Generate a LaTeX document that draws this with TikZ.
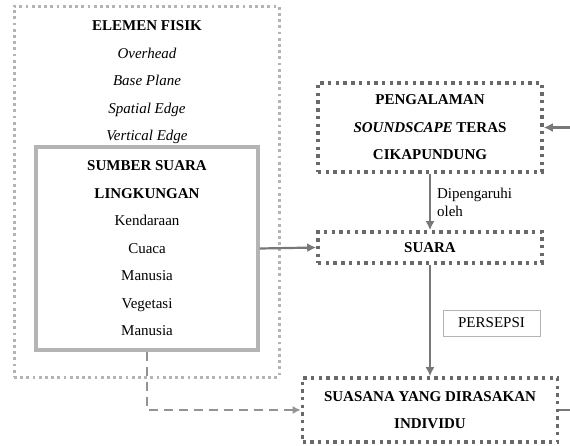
\documentclass[tikz,border=0pt]{standalone}
\usepackage{fontspec}
\setmainfont{Liberation Serif}
\usetikzlibrary{arrows.meta,positioning}
\definecolor{dotGray}{RGB}{105,105,105}
\definecolor{paleGray}{RGB}{180,180,180}
\definecolor{lineGray}{RGB}{120,120,120}
\begin{document}
\begin{tikzpicture}[x=1pt,y=-1pt,
    teks/.style={font=\fontsize{15}{27.5}\selectfont,align=center,inner sep=0pt},
    kotaktitik/.style={draw=dotGray,line width=3.6pt,dash pattern=on 3.4pt off 4.3pt,inner sep=0pt},
    panah/.style={draw=lineGray,line width=2.2pt,-{Latex[length=9pt,width=9pt]}}]
          \useasboundingbox (0,0) rectangle (570,445);
          % kiri
          \node[draw=paleGray,line width=3pt,dash pattern=on 2.8pt off 3.4pt,minimum width=265pt,minimum height=371pt,inner sep=0pt] (fisik) at (146.5,191.5) {};
          \node[teks] (fisikteks) at (147,82.5) {\textbf{ELEMEN FISIK}\\\textit{Overhead}\\\textit{Base Plane}\\\textit{Spatial Edge}\\\textit{Vertical Edge}};
          \node[teks,draw=paleGray,line width=3.4pt,minimum width=222pt,minimum height=203pt,fill=white] (sumber) at (147,248.5) {\textbf{SUMBER SUARA}\\\textbf{LINGKUNGAN}\\Kendaraan\\Cuaca\\Manusia\\Vegetasi\\Manusia};
          % kanan
          \node[teks,kotaktitik,minimum width=224pt,minimum height=89pt] (pengalaman) at (430,127.5) {\textbf{PENGALAMAN}\\\textbf{\textit{SOUNDSCAPE}} \textbf{TERAS}\\\textbf{CIKAPUNDUNG}};
          \node[teks,kotaktitik,minimum width=224pt,minimum height=31pt] (suara) at (430,247.5) {\textbf{SUARA}};
          \node[teks,kotaktitik,minimum width=255pt,minimum height=64pt] (suasana) at (430,410) {\textbf{SUASANA YANG DIRASAKAN}\\\textbf{INDIVIDU}};
          \node[teks,draw=paleGray,line width=1pt,minimum width=97pt,minimum height=26pt] (persepsi) at (491.5,323) {PERSEPSI};
          \coordinate (masuk) at (570,127.5);
          \coordinate (keluar) at (570,410);
          % panah
          \draw[panah] (masuk) -- (pengalaman.east);
          \draw[panah] (pengalaman.south) -- node[right=6pt,font=\fontsize{15}{18}\selectfont,align=left,inner sep=0pt] (pengaruh) {Dipengaruhi\\oleh} (suara.north);
          \draw[panah] (sumber.east) -- (suara.west);
          \draw[panah] (suara.south) -- (suasana.north);
          \draw[draw=lineGray!80,line width=1.8pt,dash pattern=on 9pt off 6pt,-{Latex[length=8pt,width=8pt]}] (sumber.south) |- (suasana.west);
          \draw[draw=lineGray,line width=2.2pt] (suasana.east) -- (keluar);
        \end{tikzpicture}
\end{document}
